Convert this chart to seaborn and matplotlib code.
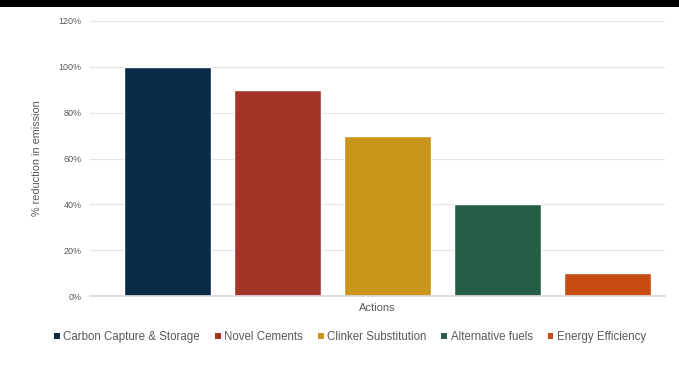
import matplotlib
matplotlib.use("Agg")
import matplotlib.pyplot as plt
import seaborn as sns
import pandas as pd
from matplotlib.patches import Rectangle, Patch

categories = ["Carbon Capture & Storage", "Novel Cements", "Clinker Substitution",
              "Alternative fuels", "Energy Efficiency"]
values = [100, 90, 70, 40, 10]
colors = ["#0C2B48", "#A23428", "#C9951B", "#245E44", "#C64C12"]
yticks = [0, 20, 40, 60, 80, 100, 120]
ytick_labels = ["0%", "20%", "40%", "60%", "80%", "100%", "120%"]

sns.set_theme(style="white")
plt.rcParams['font.family'] = ['Liberation Sans', 'DejaVu Sans']

W, H = 679, 374
L, R, T, B = 90, 665, 21, 296
fig = plt.figure(figsize=(W/100, H/100), dpi=100)
ax = fig.add_axes([L/W, 1-B/H, (R-L)/W, (B-T)/H])

df = pd.DataFrame({"Action": categories, "value": values})
sns.barplot(data=df, x="Action", y="value", hue="Action", palette=colors,
            width=0.79, legend=False, ax=ax, saturation=1)

step = 110.0
x0 = -(167.5 - L) / step
ax.set_xlim(x0, x0 + (R - L) / step)
ax.set_ylim(0, 120)
ax.set_yticks(yticks)
ax.set_yticklabels(ytick_labels, color="#595959", fontsize=6.5)
ax.tick_params(axis="y", length=0, pad=6)
ax.set_xticks([])
ax.grid(axis="y", color="#E3E3E3", linewidth=0.8)
ax.set_axisbelow(True)
for s in ["top", "right", "left"]:
    ax.spines[s].set_visible(False)
ax.spines["bottom"].set_color("#D9D9D9")
ax.set_xlabel("Actions", color="#595959", fontsize=8, labelpad=5)
ax.set_ylabel("% reduction in emission", color="#595959", fontsize=7.8)
ax.yaxis.set_label_coords(-(L - 42) / (R - L), 0.5)

handles = [Patch(facecolor=c, edgecolor="none") for c in colors]
fig.legend(handles, categories, loc="center", bbox_to_anchor=(350/W, 1-337/H),
           ncol=5, frameon=False, fontsize=8.3, handlelength=0.5, handleheight=0.5,
           handletextpad=0.3, columnspacing=1.3, labelcolor="#595959")

fig.patches.append(Rectangle((0, 1-7/H), 1, 7/H, transform=fig.transFigure,
                             facecolor="black", edgecolor="none", zorder=10))

fig.savefig("out.png", dpi=100)
